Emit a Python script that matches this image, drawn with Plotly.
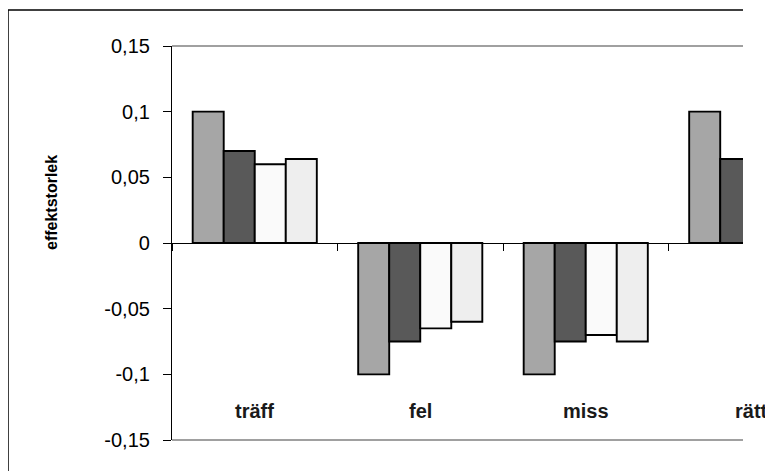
import plotly.graph_objects as go

categories = ["träff", "fel", "miss", "rätt"]
series_names = ["serie 1", "serie 2", "serie 3", "serie 4"]
serie1 = [0.100, -0.100, -0.100, 0.100]
serie2 = [0.070, -0.075, -0.075, 0.064]
serie3 = [0.060, -0.065, -0.070, 0.060]
serie4 = [0.064, -0.060, -0.075, 0.065]
tick_vals = [0.15, 0.1, 0.05, 0, -0.05, -0.1, -0.15]
tick_text = ["0,15", "0,1", "0,05", "0", "-0,05", "-0,1", "-0,15"]
y_title = "effektstorlek"

colors = ["#A6A6A6", "#595959", "#FAFAFA", "#EEEEEE"]

W, H = 773, 471
OFF = 8  # page body margin
L, R, T, B = 172 - OFF, 743 - OFF, 46 - OFF, 440 - OFF
CAT_W = 165.5
X_RANGE = [-0.5, -0.5 + (R - L) / CAT_W]

def px_x(x):
    return (x - OFF - L) / (R - L)

def px_y(y):
    return (B - (y - OFF)) / (B - T)

def cat_paper(i):
    return (i - X_RANGE[0]) / (X_RANGE[1] - X_RANGE[0])

fig = go.Figure()
for name, vals, col in zip(series_names, [serie1, serie2, serie3, serie4], colors):
    fig.add_trace(go.Bar(
        x=categories, y=vals, name=name,
        marker=dict(color=col, line=dict(color="#000000", width=1.9)),
    ))

# category labels near the bottom
for i, c in enumerate(categories):
    fig.add_annotation(x=cat_paper(i), y=-0.128, xref="paper", yref="y", text="<b>%s</b>" % c,
                       showarrow=False, xanchor="center", yanchor="middle",
                       font=dict(family="Liberation Sans, Arial", size=20, color="#1a1a1a"))

# y title
fig.add_annotation(x=px_x(51), y=px_y(203), xref="paper", yref="paper",
                   text="<b>%s</b>" % y_title, textangle=-90, showarrow=False,
                   xanchor="center", yanchor="middle",
                   font=dict(family="Liberation Sans Narrow, Liberation Sans, Arial", size=16, color="#000000"))

shapes = [
    dict(type="line", xref="paper", yref="paper", x0=0, x1=1, y0=1, y1=1,
         line=dict(color="#A0A0A0", width=2)),
    dict(type="line", xref="paper", yref="paper", x0=0, x1=1, y0=0, y1=0,
         line=dict(color="#A0A0A0", width=2)),
    dict(type="line", xref="paper", yref="paper", x0=px_x(8), x1=1, y0=px_y(10), y1=px_y(10),
         line=dict(color="#000000", width=1.5)),
    dict(type="line", xref="paper", yref="paper", x0=px_x(8), x1=px_x(8), y0=px_y(10), y1=px_y(480),
         line=dict(color="#000000", width=1.5)),
]

fig.update_layout(
    width=W, height=H,
    margin=dict(l=L, r=W - R, t=T, b=H - B, pad=0),
    paper_bgcolor="white", plot_bgcolor="white",
    showlegend=False,
    barmode="group", bargap=0.25, bargroupgap=0,
    shapes=shapes,
    font=dict(family="Liberation Sans, Arial", color="#000000"),
)
fig.update_xaxes(
    type="category", range=X_RANGE,
    anchor="free", position=0.5,
    showline=True, linecolor="#000000", linewidth=1.2,
    ticks="outside", tickson="boundaries", ticklen=7, tickcolor="#000000", tickwidth=1.2,
    showticklabels=False, showgrid=False, zeroline=False,
)
fig.update_yaxes(
    range=[-0.15, 0.15], tickmode="array", tickvals=tick_vals, ticktext=tick_text,
    showline=True, linecolor="#000000", linewidth=1.2,
    ticks="outside", ticklen=8, tickcolor="#000000", tickwidth=1.2,
    ticklabelstandoff=9,
    tickfont=dict(family="Liberation Sans, Arial", size=20, color="#000000"),
    showgrid=False, zeroline=False,
)

fig.write_html("out.html")
